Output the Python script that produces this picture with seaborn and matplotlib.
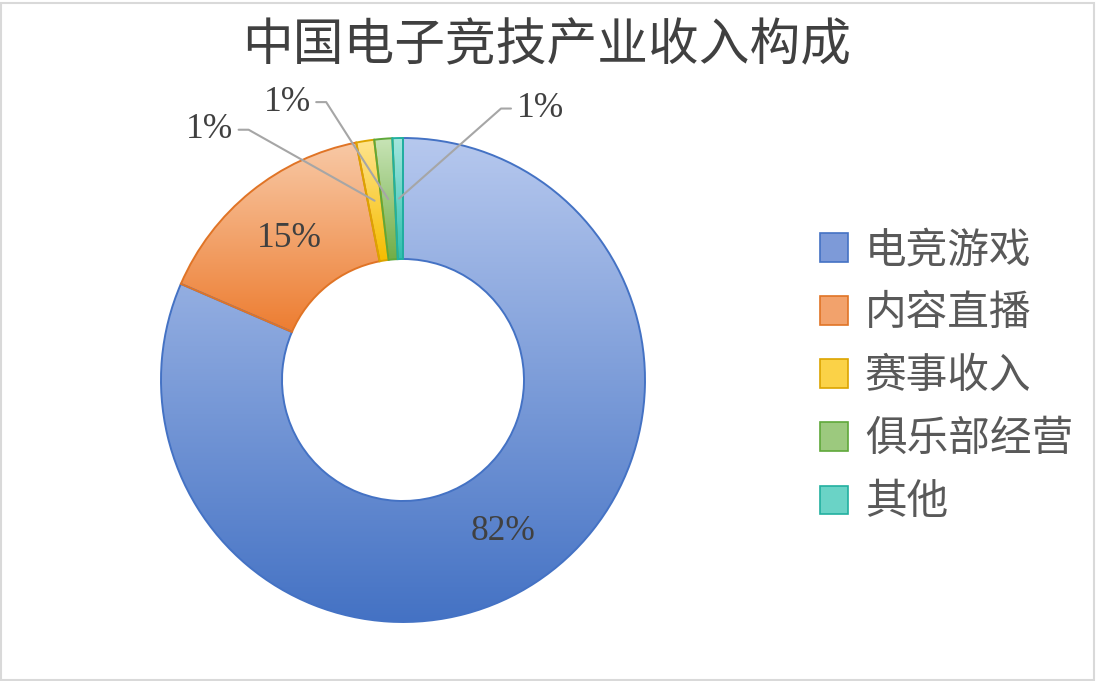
import numpy as np
import matplotlib
matplotlib.use("Agg")
import matplotlib.pyplot as plt
import seaborn as sns
from matplotlib.patches import Patch, Rectangle
from matplotlib.colors import LinearSegmentedColormap

# ---- data ----
title = "中国电子竞技产业收入构成"
categories = ["电竞游戏", "内容直播", "赛事收入", "俱乐部经营", "其他"]
shares = [81.5, 15.4, 1.2, 1.2, 0.7]
pct_labels = ["82%", "15%", "1%", "1%", "1%"]

# ---- style ----
top_colors = ["#b6c8ee", "#f8c9a6", "#ffe48e", "#c8e4b6", "#a6e6dd"]
bottom_colors = ["#4472c4", "#ed7d31", "#f5bd00", "#70ad47", "#2ebfaf"]
edge_colors = ["#4472c4", "#e07426", "#dca400", "#5fa83a", "#22b0a0"]
mid_colors = ["#7d9ad8", "#f2a26c", "#fbd247", "#9cc97e", "#6ad3c6"]

sns.set_theme(style="white")
plt.rcParams['font.family'] = ['Noto Sans CJK SC', 'DejaVu Sans']

W, H = 1097, 681
fig = plt.figure(figsize=(W / 100, H / 100), dpi=100)
ax = fig.add_axes([0, 0, 1, 1])

cx, cy, R = 403, H - 380, 242
wedges, _ = ax.pie(shares, startangle=90, counterclock=False, center=(cx, cy),
                   radius=R, frame=True,
                   wedgeprops=dict(width=R * 0.5, linewidth=1.4))

for i, w in enumerate(wedges):
    w.set_facecolor("none")
    w.set_edgecolor(edge_colors[i])
    w.set_zorder(3)
    bb = w.get_path().get_extents()
    cmap = LinearSegmentedColormap.from_list("g%d" % i, [bottom_colors[i], top_colors[i]])
    grad = np.linspace(0, 1, 256).reshape(-1, 1)
    im = ax.imshow(grad, extent=[bb.x0, bb.x1, bb.y0, bb.y1], origin="lower",
                   cmap=cmap, aspect="auto", zorder=2, interpolation="bilinear")
    im.set_clip_path(w)

ax.set_xlim(0, W)
ax.set_ylim(0, H)
ax.axis("off")

# percent labels
label_font = dict(family=["Liberation Serif", "DejaVu Serif"], color="#404040")
# (dx, dy) from anchor to leader-line end, in pixels (dy positive = up)
offsets = [None, None, (-136, 71), (-72, 97), (112, 90)]
for i, w in enumerate(wedges):
    ang = np.deg2rad((w.theta1 + w.theta2) / 2)
    px = cx + 0.75 * R * np.cos(ang)
    py = cy + 0.75 * R * np.sin(ang)
    if offsets[i] is None:
        ax.text(px, py, pct_labels[i], ha="center", va="center",
                fontsize=25.5, zorder=5, **label_font)
        continue
    dx, dy = offsets[i]
    tx, ty = px + dx, py + dy
    if dx < 0:
        ax.plot([px, tx + 10, tx], [py, ty, ty], color="#a6a6a6", lw=1.5, zorder=4)
        ax.text(tx - 5, ty, pct_labels[i], ha="right", va="center",
                fontsize=25.5, zorder=5, **label_font)
    else:
        ax.plot([px, tx - 10, tx], [py, ty, ty], color="#a6a6a6", lw=1.5, zorder=4)
        ax.text(tx + 6, ty, pct_labels[i], ha="left", va="center",
                fontsize=25.5, zorder=5, **label_font)

# title
ax.text(547, H - 46, title, ha="center", va="center", fontsize=36.5, color="#404040")

# legend
handles = [Patch(facecolor=mid_colors[i], edgecolor=edge_colors[i], linewidth=1.2)
           for i in range(len(categories))]
ax.legend(handles, categories, loc="upper left", bbox_to_anchor=(820, H - 230),
          bbox_transform=ax.transData, frameon=False, fontsize=30,
          handlelength=0.67, handleheight=0.67, handletextpad=0.41,
          labelspacing=0.53, borderpad=0, borderaxespad=0, labelcolor="#595959")

# outer border
ax.add_patch(Rectangle((1, 1), W - 4, H - 4, fill=False, edgecolor="#d9d9d9",
                       linewidth=1.5, zorder=10, clip_on=False))

fig.savefig("out.png", dpi=100)
